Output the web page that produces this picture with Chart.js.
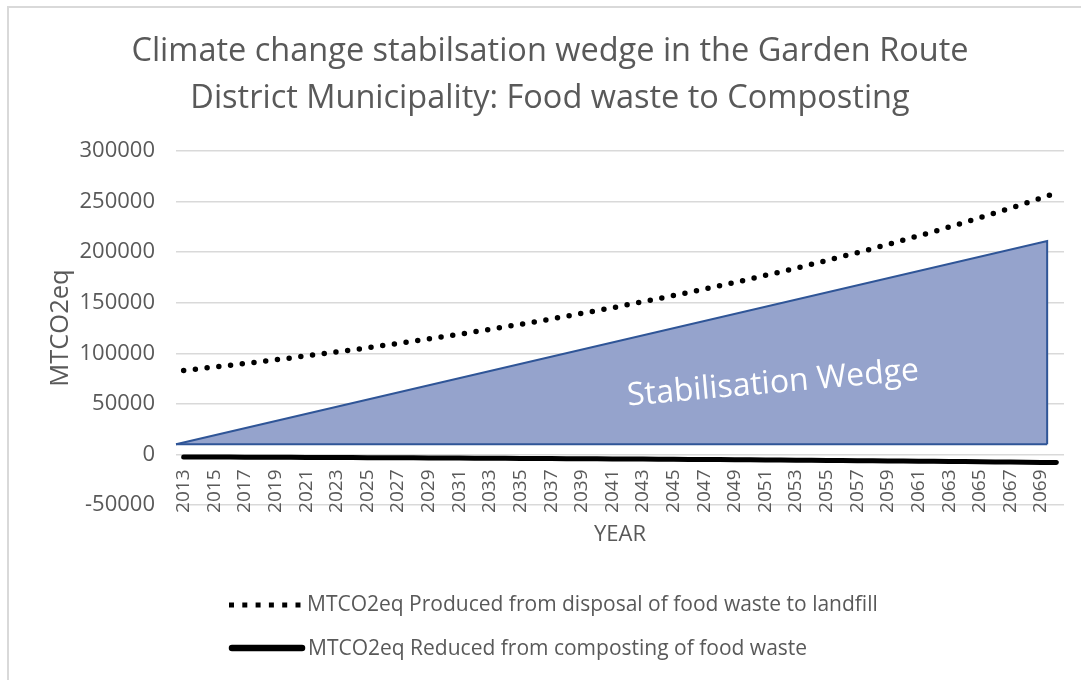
<!DOCTYPE html>
<html>
<head>
<meta charset="utf-8">
<script src="https://cdn.jsdelivr.net/npm/chart.js@4.4.1/dist/chart.umd.min.js"></script>
<style>
  html, body { margin: 0; padding: 0; background: #ffffff; }
  #wrap { width: 1081px; height: 680px; position: relative; }
</style>
</head>
<body>
<div id="wrap"><canvas id="wedgeChart" width="1081" height="680"></canvas></div>
<script>
// ---- data ----
const years = [2013, 2014, 2015, 2016, 2017, 2018, 2019, 2020, 2021, 2022,
  2023, 2024, 2025, 2026, 2027, 2028, 2029, 2030, 2031, 2032,
  2033, 2034, 2035, 2036, 2037, 2038, 2039, 2040, 2041, 2042,
  2043, 2044, 2045, 2046, 2047, 2048, 2049, 2050, 2051, 2052,
  2053, 2054, 2055, 2056, 2057, 2058, 2059, 2060, 2061, 2062,
  2063, 2064, 2065, 2066, 2067, 2068, 2069, 2070];

const landfillValues = [83000, 84700, 86400, 88100, 89900, 91700, 93500, 95400, 97400, 99300,
  101300, 103400, 105400, 107600, 109700, 111900, 114200, 116500, 118800, 121200,
  123700, 126200, 128700, 131300, 133900, 136600, 139400, 142200, 145000, 148000,
  150900, 154000, 157100, 160200, 163500, 166800, 170100, 173500, 177000, 180600,
  184200, 187900, 191700, 195600, 199500, 203500, 207600, 211800, 216100, 220400,
  224900, 229400, 234000, 238700, 243500, 248400, 253400, 258500];

const compostingValues = [-2500, -2550, -2600, -2660, -2710, -2770, -2830, -2880, -2940, -3000,
  -3070, -3130, -3190, -3260, -3330, -3400, -3470, -3540, -3610, -3690,
  -3760, -3840, -3920, -4000, -4090, -4170, -4260, -4350, -4440, -4530,
  -4620, -4720, -4820, -4920, -5020, -5120, -5230, -5340, -5450, -5560,
  -5680, -5790, -5910, -6040, -6160, -6290, -6420, -6550, -6690, -6830,
  -6970, -7110, -7260, -7410, -7560, -7720, -7880, -8040];

// wedge (a drawn shape in the original): rising edge, then straight down
const wedgeYears = [2012.5, 2069.4, 2069.4];
const wedgeValues = [10000, 211000, 10000];
const wedgeBaseYears = [2012.5, 2069.4];
const wedgeBase = 10000;

const tickYears = [2013, 2015, 2017, 2019, 2021, 2023, 2025, 2027, 2029, 2031,
  2033, 2035, 2037, 2039, 2041, 2043, 2045, 2047, 2049, 2051,
  2053, 2055, 2057, 2059, 2061, 2063, 2065, 2067, 2069];
const yTicks = [-50000, 0, 50000, 100000, 150000, 200000, 250000, 300000];

const wedgeLabel = 'Stabilisation Wedge';
const wedgeLabelAt = { year: 2051.5, value: 70000 };

const grey = '#595959';
const fontFamily = "'Open Sans', 'Noto Sans', sans-serif";

// ---- extras: frame, wedge label, legend ----
const extras = {
  id: 'extras',
  afterDraw(chart) {
    const ctx = chart.ctx;
    const x = chart.scales.x, y = chart.scales.y;

    // frame (only top and left edges show in the reference)
    ctx.save();
    ctx.strokeStyle = '#d9d9d9';
    ctx.lineWidth = 2;
    ctx.beginPath();
    ctx.moveTo(8, 680);
    ctx.lineTo(8, 7);
    ctx.lineTo(1081, 7);
    ctx.stroke();
    ctx.restore();

    // label inside the wedge
    ctx.save();
    ctx.translate(x.getPixelForValue(wedgeLabelAt.year), y.getPixelForValue(wedgeLabelAt.value));
    ctx.rotate(-5 * Math.PI / 180);
    ctx.fillStyle = '#ffffff';
    ctx.font = '32px ' + fontFamily;
    ctx.textAlign = 'center';
    ctx.textBaseline = 'middle';
    ctx.fillText(wedgeLabel, 0, 0);
    ctx.restore();

    // legend
    const ds = chart.data.datasets;
    ctx.save();
    ctx.font = '21px ' + fontFamily;
    ctx.textAlign = 'left';
    ctx.textBaseline = 'middle';

    ctx.fillStyle = '#000000';
    for (let i = 0; i < 6; i++) {
      ctx.fillRect(229 + i * 13.3, 602.5, 5, 5);
    }
    ctx.fillStyle = grey;
    ctx.fillText(ds[2].label, 307, 605);

    ctx.strokeStyle = '#000000';
    ctx.lineWidth = 6.5;
    ctx.lineCap = 'round';
    ctx.beginPath();
    ctx.moveTo(232, 648);
    ctx.lineTo(302, 648);
    ctx.stroke();
    ctx.fillText(ds[3].label, 308, 649);
    ctx.restore();
  }
};

const canvas = document.getElementById('wedgeChart');

new Chart(canvas.getContext('2d'), {
  type: 'line',
  data: {
    datasets: [
      {
        label: 'Stabilisation Wedge',
        data: wedgeYears.map((yr, i) => ({ x: yr, y: wedgeValues[i] })),
        borderColor: '#2f5597',
        borderWidth: 2,
        backgroundColor: '#95a3cc',
        fill: { target: { value: wedgeBase } },
        pointRadius: 0,
        tension: 0,
        clip: false,
        order: 4
      },
      {
        label: 'Wedge base',
        data: wedgeBaseYears.map(yr => ({ x: yr, y: wedgeBase })),
        borderColor: '#2f5597',
        borderWidth: 2,
        pointRadius: 0,
        fill: false,
        clip: false,
        order: 3
      },
      {
        label: 'MTCO2eq Produced from disposal of food waste to landfill',
        data: years.map((yr, i) => ({ x: yr, y: landfillValues[i] })),
        borderColor: '#000000',
        borderWidth: 5.5,
        borderDash: [0, 11.8],
        borderCapStyle: 'round',
        pointRadius: 0,
        fill: false,
        clip: false,
        order: 2
      },
      {
        label: 'MTCO2eq Reduced from composting of food waste',
        data: years.map((yr, i) => ({ x: yr, y: compostingValues[i] })),
        borderColor: '#000000',
        borderWidth: 5,
        borderCapStyle: 'round',
        pointRadius: 0,
        fill: false,
        clip: false,
        order: 1
      }
    ]
  },
  options: {
    responsive: false,
    animation: false,
    layout: { padding: { left: 36, right: 17, top: 0, bottom: 175 } },
    plugins: {
      legend: { display: false },
      tooltip: { enabled: false },
      title: {
        display: true,
        text: ['Climate change stabilsation wedge in the Garden Route',
               'District Municipality: Food waste to Composting'],
        color: grey,
        font: { family: fontFamily, size: 32.5, weight: 'normal', lineHeight: 1.446 },
        padding: { top: 28.5, bottom: 28.5 }
      }
    },
    scales: {
      x: {
        type: 'linear',
        position: { y: 0 },
        min: 2012.5,
        max: 2070.5,
        afterBuildTicks: scale => { scale.ticks = tickYears.map(v => ({ value: v })); },
        afterFit: scale => { scale.height = 100; },
        grid: { display: false, drawTicks: false },
        border: { display: false },
        ticks: {
          autoSkip: false,
          minRotation: 90,
          maxRotation: 90,
          padding: 15,
          color: grey,
          font: { family: fontFamily, size: 19 },
          callback: v => String(v)
        },
        title: {
          display: true,
          text: 'YEAR',
          color: grey,
          font: { family: fontFamily, size: 22 },
          padding: { top: 0, bottom: 6 }
        }
      },
      y: {
        min: -50000,
        max: 300000,
        afterBuildTicks: scale => { scale.ticks = yTicks.map(v => ({ value: v })); },
        afterFit: scale => { scale.width = 140; },
        grid: { color: '#d9d9d9', lineWidth: 1.5, drawTicks: false },
        border: { display: false },
        ticks: {
          padding: 21,
          color: grey,
          font: { family: fontFamily, size: 22 },
          callback: v => String(v)
        },
        title: {
          display: true,
          text: 'MTCO2eq',
          color: grey,
          font: { family: fontFamily, size: 25.5 },
          padding: { top: 9, bottom: 0 }
        }
      }
    }
  },
  plugins: [extras]
});
</script>
</body>
</html>
